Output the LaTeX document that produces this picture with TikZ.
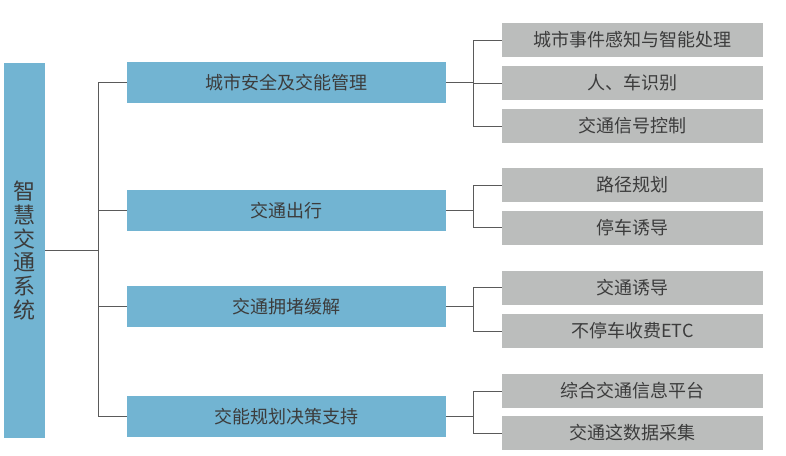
\documentclass[tikz,border=0pt]{standalone}
\usepackage{fontspec}
\setmainfont{Noto Sans CJK SC}
\usetikzlibrary{positioning,calc}
\definecolor{tblue}{HTML}{72B4D2}
\definecolor{tgrey}{HTML}{BBBDBC}
\definecolor{ttext}{HTML}{3C3C3C}
\definecolor{tline}{HTML}{5A5A5A}
\tikzset{
  sysbox/.style ={rectangle, fill=tblue, text=ttext, align=center,
                  font=\fontsize{22}{23.7}\selectfont,
                  minimum width=41pt, minimum height=375pt, inner sep=0pt},
  midbox/.style ={rectangle, fill=tblue, text=ttext, align=center,
                  font=\fontsize{18}{20}\selectfont,
                  minimum width=319pt, minimum height=41pt, inner sep=0pt},
  subbox/.style ={rectangle, fill=tgrey, text=ttext, align=center,
                  font=\fontsize{18}{20}\selectfont,
                  minimum width=261pt, minimum height=34pt, inner sep=0pt},
  conn/.style   ={draw=tline, line width=1pt}
}
\begin{document}
\begin{tikzpicture}[x=1pt,y=-1pt]
  \useasboundingbox (0,0) rectangle (786,455);

  \node[sysbox] (sys) at (24.5,250.5) {智\\慧\\交\\通\\系\\统};

  \node[midbox] (m1) at (286.5,82.5)  {城市安全及交能管理};
  \node[midbox] (m2) at (286.5,210.5) {交通出行};
  \node[midbox] (m3) at (286.5,306.5) {交通拥堵缓解};
  \node[midbox] (m4) at (286.5,416.5) {交能规划决策支持};

  \node[subbox] (s1) at (632.5,40)    {城市事件感知与智能处理};
  \node[subbox] (s2) at (632.5,83)    {人、车识别};
  \node[subbox] (s3) at (632.5,126)   {交通信号控制};
  \node[subbox] (s4) at (632.5,185)   {路径规划};
  \node[subbox] (s5) at (632.5,227.5) {停车诱导};
  \node[subbox] (s6) at (632.5,287.5) {交通诱导};
  \node[subbox] (s7) at (632.5,331)   {不停车收费ETC};
  \node[subbox] (s8) at (632.5,391)   {综合交通信息平台};
  \node[subbox] (s9) at (632.5,433)   {交通这数据采集};

  \coordinate (trunk) at (98,250);
  \draw[conn] (sys.east|-trunk) -- (trunk);
  \foreach \m in {m1,m2,m3,m4}
    \draw[conn] (trunk) |- (\m.west);

  \foreach \m/\list in {m1/{s1,s2,s3},m2/{s4,s5},m3/{s6,s7},m4/{s8,s9}}{
    \coordinate (j\m) at ($(\m.east)+(27,0)$);
    \draw[conn] (\m.east) -- (j\m);
    \foreach \s in \list
      \draw[conn] (j\m) |- (\s.west);
  }
\end{tikzpicture}
\end{document}
